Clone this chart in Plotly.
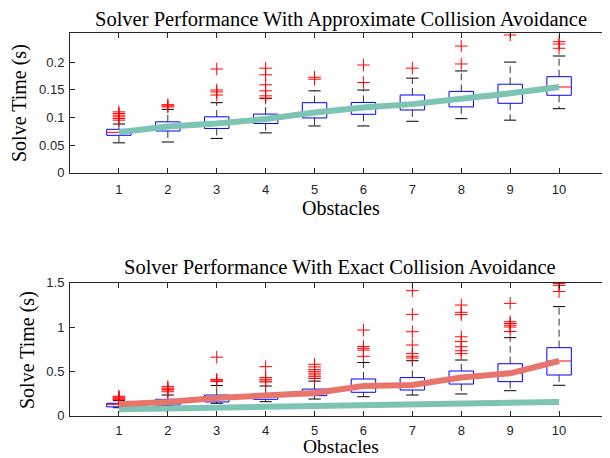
import plotly.graph_objects as go

obstacles = [1, 2, 3, 4, 5, 6, 7, 8, 9, 10]
x_tick_labels = ["1", "2", "3", "4", "5", "6", "7", "8", "9", "10"]

# --- Approximate collision avoidance (top panel) ---
approx_q1 = [0.0676, 0.0754, 0.080, 0.089, 0.099, 0.1056, 0.1134, 0.119, 0.1255, 0.140]
approx_median = [0.073, 0.0836, 0.089, 0.097, 0.109, 0.118, 0.124, 0.133, 0.1435, 0.155]
approx_q3 = [0.0784, 0.092, 0.101, 0.106, 0.1266, 0.127, 0.1405, 0.147, 0.160, 0.1736]
approx_lower = [0.054, 0.0555, 0.062, 0.072, 0.0845, 0.0845, 0.093, 0.0977, 0.095, 0.1157]
approx_upper = [0.088, 0.1146, 0.1266, 0.134, 0.148, 0.1495, 0.171, 0.184, 0.200, 0.211]
approx_outliers = [
    [0.095, 0.098, 0.101, 0.104, 0.107, 0.110],
    [0.119, 0.121, 0.123],
    [0.1405, 0.146, 0.1495, 0.1875],
    [0.135, 0.139, 0.148, 0.159, 0.177, 0.189],
    [0.169, 0.1725],
    [0.163, 0.1947],
    [0.189],
    [0.1966, 0.229],
    [0.249],
    [0.225, 0.2327, 0.237],
]

# --- Exact collision avoidance (bottom panel) ---
exact_q1 = [0.10, 0.12, 0.155, 0.185, 0.226, 0.264, 0.29, 0.357, 0.384, 0.459]
exact_median = [0.128, 0.155, 0.20, 0.222, 0.255, 0.335, 0.346, 0.43, 0.478, 0.617]
exact_q3 = [0.14, 0.185, 0.233, 0.25, 0.30, 0.414, 0.43, 0.504, 0.586, 0.767]
exact_lower = [0.09, 0.11, 0.14, 0.158, 0.188, 0.214, 0.233, 0.245, 0.282, 0.343]
exact_upper = [0.17, 0.233, 0.34, 0.335, 0.39, 0.60, 0.62, 0.628, 0.88, 1.23]
exact_outliers = [
    [0.18, 0.19, 0.20, 0.21, 0.22],
    [0.27, 0.29, 0.30, 0.31, 0.33],
    [0.385, 0.40, 0.41, 0.66],
    [0.38, 0.39, 0.41, 0.43, 0.553],
    [0.42, 0.44, 0.46, 0.48, 0.50, 0.52, 0.55, 0.58],
    [0.67, 0.74, 0.76, 0.78, 0.966],
    [0.65, 0.67, 0.70, 0.797, 0.947, 1.143, 1.41],
    [0.70, 0.733, 0.778, 0.835, 0.89, 1.14, 1.166, 1.248],
    [0.95, 1.00, 1.02, 1.04, 1.06, 1.267],
    [1.40, 1.47, 1.49],
]

top_titles = ["Solver Performance With Approximate Collision Avoidance",
              "Solver Performance With Exact Collision Avoidance"]

BOX_HALF = 0.25
CAP_HALF = 0.125
GREEN = "rgb(125,196,178)"
RED_LINE = "rgb(232,117,107)"

fig = go.Figure()


def add_boxes(q1, med, q3, lo, hi, outl, xa, ya):
    wx, wy, cx, cy, bx, by, mx, my, ox, oy = [], [], [], [], [], [], [], [], [], []
    for i, xv in enumerate(obstacles):
        wx += [xv, xv, None, xv, xv, None]
        wy += [q3[i], hi[i], None, q1[i], lo[i], None]
        cx += [xv - CAP_HALF, xv + CAP_HALF, None, xv - CAP_HALF, xv + CAP_HALF, None]
        cy += [hi[i], hi[i], None, lo[i], lo[i], None]
        bx += [xv - BOX_HALF, xv + BOX_HALF, xv + BOX_HALF, xv - BOX_HALF, xv - BOX_HALF, None]
        by += [q1[i], q1[i], q3[i], q3[i], q1[i], None]
        mx += [xv - BOX_HALF, xv + BOX_HALF, None]
        my += [med[i], med[i], None]
        for v in outl[i]:
            ox.append(xv)
            oy.append(v)
    common = dict(xaxis=xa, yaxis=ya, showlegend=False, hoverinfo="skip")
    fig.add_trace(go.Scatter(x=wx, y=wy, mode="lines",
                             line=dict(color="rgb(50,50,50)", width=1, dash="7px,4px"), **common))
    fig.add_trace(go.Scatter(x=cx, y=cy, mode="lines",
                             line=dict(color="black", width=1), **common))
    fig.add_trace(go.Scatter(x=bx, y=by, mode="lines",
                             line=dict(color="blue", width=1), **common))
    fig.add_trace(go.Scatter(x=mx, y=my, mode="lines",
                             line=dict(color="red", width=1), **common))
    fig.add_trace(go.Scatter(x=ox, y=oy, mode="markers",
                             marker=dict(symbol="cross-thin", size=9, color="red",
                                         line=dict(color="red", width=1)), **common))


add_boxes(approx_q1, approx_median, approx_q3, approx_lower, approx_upper, approx_outliers, "x", "y")
fig.add_trace(go.Scatter(x=obstacles, y=approx_median, mode="lines", xaxis="x", yaxis="y",
                         line=dict(color=GREEN, width=6), showlegend=False, hoverinfo="skip"))

add_boxes(exact_q1, exact_median, exact_q3, exact_lower, exact_upper, exact_outliers, "x2", "y2")
fig.add_trace(go.Scatter(x=obstacles, y=approx_median, mode="lines", xaxis="x2", yaxis="y2",
                         line=dict(color=GREEN, width=6), showlegend=False, hoverinfo="skip"))
fig.add_trace(go.Scatter(x=obstacles, y=exact_median, mode="lines", xaxis="x2", yaxis="y2",
                         line=dict(color=RED_LINE, width=6), showlegend=False, hoverinfo="skip"))

# the page body adds an 8px offset, so the figure is 8px smaller and shifted
OFF = 8
W, H = 610 - OFF, 458 - OFF
L, R = 70 - OFF, 2


def py(p):
    return (H - (p - OFF)) / H


def px(p):
    return (p - OFF - L) / (W - L - R)


axis_common = dict(showline=True, linecolor="#262626", linewidth=1, mirror="ticks",
                   ticks="inside", ticklen=5, tickcolor="#262626", showgrid=False,
                   zeroline=False, automargin=False,
                   tickfont=dict(family="Liberation Sans", size=13, color="#262626"))

fig.update_layout(
    width=W, height=H,
    margin=dict(l=L, r=R, t=0, b=0),
    plot_bgcolor="white", paper_bgcolor="white",
    xaxis=dict(domain=[0, 1], anchor="y", range=[0, 11], tickvals=obstacles,
               ticktext=x_tick_labels, ticklabelstandoff=5, **axis_common),
    yaxis=dict(domain=[py(172.7), py(33)], anchor="x", range=[0, 0.2526],
               tickvals=[0, 0.05, 0.1, 0.15, 0.2], ticktext=["0", "0.05", "0.1", "0.15", "0.2"],
               ticklabelstandoff=2, **axis_common),
    xaxis2=dict(domain=[0, 1], anchor="y2", range=[0, 11], tickvals=obstacles,
                ticktext=x_tick_labels, ticklabelstandoff=3, **axis_common),
    yaxis2=dict(domain=[py(415.7), py(282.7)], anchor="x2", range=[0, 1.5],
                tickvals=[0, 0.5, 1, 1.5], ticktext=["0", "0.5", "1", "1.5"],
                ticklabelstandoff=2, **axis_common),
)

title_font = dict(family="Liberation Serif", size=20.5, color="black")
label_font = dict(family="Liberation Serif", size=20, color="black")
bottom_label_font = dict(family="Liberation Serif", size=19.5, color="black")
ann = [
    dict(text=top_titles[0], x=px(341), y=py(19), font=title_font),
    dict(text=top_titles[1], x=px(340), y=py(267), font=title_font),
    dict(text="Obstacles", x=px(341), y=py(208), font=label_font),
    dict(text="Obstacles", x=px(341), y=py(446), font=bottom_label_font),
    dict(text="Solve Time (s)", x=px(19), y=py(103), font=label_font, textangle=-90),
    dict(text="Solve Time (s)", x=px(27), y=py(350), font=label_font, textangle=-90),
]
for a in ann:
    fig.add_annotation(xref="paper", yref="paper", showarrow=False,
                       xanchor="center", yanchor="middle", **a)

fig.write_html("out.html")
